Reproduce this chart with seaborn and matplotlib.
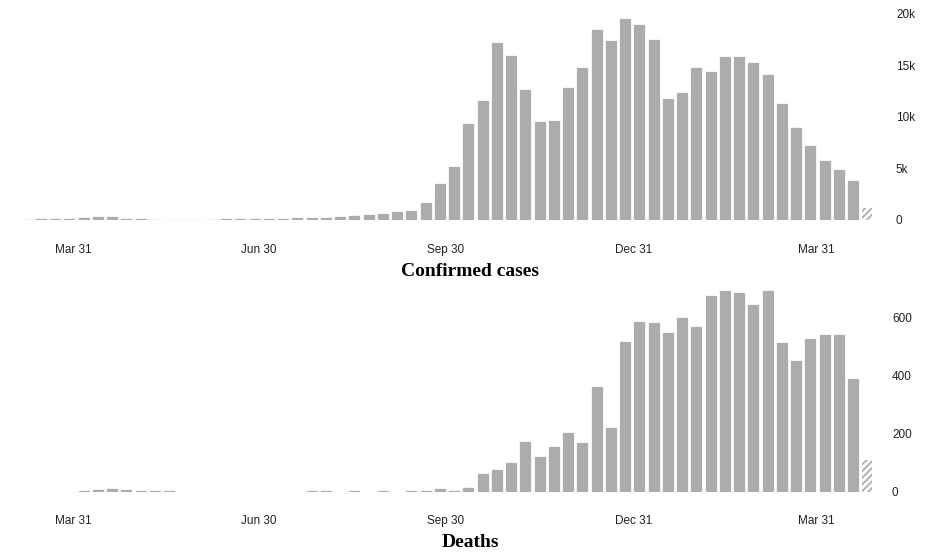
import matplotlib
matplotlib.use("Agg")
import matplotlib.pyplot as plt
import pandas as pd
import seaborn as sns

# weekly counts, first week centred on 2020-03-08, last week still incomplete
week_start = "2020-03-08"
n_weeks = 60
cases = [
    20, 100, 130, 130, 230, 290, 290, 50, 60, 20,
    20, 20, 20, 20, 60, 90, 100, 130, 60, 160,
    200, 230, 290, 420, 490, 550, 820, 880, 1660, 3450,
    5170, 9300, 11500, 17100, 15860, 12600, 9460, 9590, 12740, 14760,
    18400, 17290, 19500, 18900, 17420, 11700, 12320, 14690, 14365, 15800,
    15800, 15210, 14010, 11250, 8940, 7215, 5720, 4810, 3800, 1140,
]
deaths = [
    0, 0, 0, 0, 3, 6, 7, 4, 3, 1,
    1, 0, 0, 0, 0, 0, 0, 0, 0, 0,
    1, 1, 0, 1, 0, 1, 0, 1, 1, 9,
    1, 11, 59, 75, 99, 171, 117, 154, 201, 168,
    358, 218, 515, 584, 578, 546, 597, 565, 674, 690,
    682, 643, 690, 512, 449, 526, 539, 539, 386, 108,
]
tick_dates = ["2020-03-31", "2020-06-30", "2020-09-30", "2020-12-31", "2021-03-31"]
tick_labels = ["Mar 31", "Jun 30", "Sep 30", "Dec 31", "Mar 31"]
case_ticks = [0, 5000, 10000, 15000, 20000]
case_tick_labels = ["0", "5k", "10k", "15k", "20k"]
death_ticks = [0, 200, 400, 600]
death_tick_labels = ["0", "200", "400", "600"]

BAR = "#acacac"
TXT = "#222222"

sns.set_style("white")
plt.rcParams["font.family"] = ["Liberation Sans", "DejaVu Sans"]
plt.rcParams["hatch.linewidth"] = 1.3

start = pd.Timestamp(week_start)
df = pd.DataFrame({
    "week": pd.date_range(week_start, periods=n_weeks, freq="7D"),
    "cases": cases,
    "deaths": deaths,
})
df["day"] = (df["week"] - start).dt.days
tick_days = [(pd.Timestamp(d) - start).days for d in tick_dates]

fig = plt.figure(figsize=(9.35, 5.54), dpi=100)
ax1 = fig.add_axes([15 / 935, 334 / 554, 865 / 935, 206.5 / 554])
ax2 = fig.add_axes([15 / 935, 62.5 / 554, 865 / 935, 203.5 / 554])

panels = [
    (ax1, "cases", "Confirmed cases", (0, 20000), case_ticks, case_tick_labels, 206.5, 11.5),
    (ax2, "deaths", "Deaths", (0, 700), death_ticks, death_tick_labels, 203.5, 8.6),
]

for ax, col, title, ylim, yticks, ylabels, h, ypad in panels:
    sns.barplot(data=df, x="day", y=col, native_scale=True, color=BAR,
                saturation=1, width=0.7, errorbar=None, ax=ax)
    # give tiny (non-zero) weeks a visible sliver, like the rounded bars
    for p in ax.patches:
        if p.get_height() > 0:
            p.set_edgecolor(BAR)
            p.set_linewidth(0.9)
    # last week is incomplete -> hatched
    last = max(ax.patches, key=lambda p: p.get_x())
    last.set_facecolor("white")
    last.set_edgecolor(BAR)
    last.set_hatch("/////")
    if hasattr(last, "set_hatchcolor"):
        last.set_hatchcolor(BAR)
    last.set_linewidth(0)

    ax.set_xlim(-5.7, 419.2)
    ax.set_ylim(*ylim)
    ax.set_xticks(tick_days, tick_labels)
    ax.set_yticks(yticks, ylabels)
    ax.yaxis.tick_right()
    ax.tick_params(axis="x", length=0, pad=17, labelsize=8.5, labelcolor=TXT)
    ax.tick_params(axis="y", length=0, pad=ypad, labelsize=8.5, labelcolor=TXT)
    ax.set_ylabel("")
    ax.set_xlabel(title, fontfamily="Liberation Serif", fontweight="bold",
                  fontsize=14, color="black", va="center")
    ax.xaxis.set_label_coords((470 - 15) / 865, -51 / h)
    sns.despine(ax=ax, left=True, bottom=True)

plt.savefig("out.png", dpi=100)
